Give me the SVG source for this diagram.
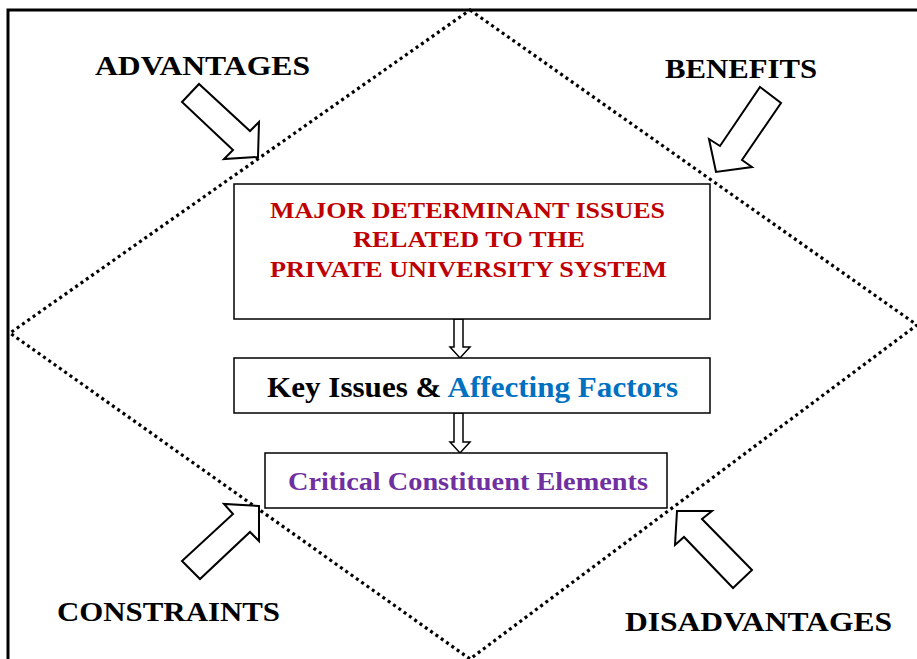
<svg xmlns="http://www.w3.org/2000/svg" width="917" height="659" viewBox="0 0 917 659">
<style>
.frame{stroke:#000;stroke-width:3;fill:none}
.dots{stroke:#000;stroke-width:3.2;fill:none;stroke-dasharray:3 3.5}
.box{fill:#fff;stroke:#000;stroke-width:1.5}
.blk{fill:#fff;stroke:#000;stroke-width:2;stroke-linejoin:miter}
.sm{fill:#fff;stroke:#000;stroke-width:1.5}
.lbl{font-family:"Liberation Serif","Times New Roman",serif;font-weight:bold;fill:#000}
</style>
<rect width="917" height="659" fill="#fff"/>
<g id="frame">
<path class="frame" d="M8,659 V10 H917"/>
</g>
<g id="diamond">
<path class="dots" d="M470,10 L917,325 L470,659 L10,333 Z"/>
</g>
<g id="connectors">
<polygon class="blk" points="182,102 199,84 250,131 259,122 258,157 224,159 233,150"/>
<polygon class="blk" points="760,87 781,103 742,160 752,167 716,172 709,139 720,146"/>
<polygon class="blk" points="259,506 224,504 233,514 182,561 200,579 250,532 259,541"/>
<polygon class="blk" points="677,511 712,511 702,519 752,570 733,588 684,537 675,545"/>
<polygon class="sm" points="454,319 463,319 463,347 470,347 460,358 450,347 454,347"/>
<polygon class="sm" points="454,413 463,413 463,442 470,442 460,453 450,442 454,442"/>
</g>
<g id="advantages"><text class="lbl" x="95" y="75" font-size="28" textLength="215" lengthAdjust="spacingAndGlyphs">ADVANTAGES</text></g>
<g id="benefits"><text class="lbl" x="665" y="78" font-size="28" textLength="152" lengthAdjust="spacingAndGlyphs">BENEFITS</text></g>
<g id="constraints"><text class="lbl" x="57" y="621" font-size="28" textLength="223" lengthAdjust="spacingAndGlyphs">CONSTRAINTS</text></g>
<g id="disadvantages"><text class="lbl" x="625" y="631" font-size="28" textLength="267" lengthAdjust="spacingAndGlyphs">DISADVANTAGES</text></g>
<g id="major">
<rect class="box" x="234" y="184" width="476" height="135"/>
<text class="lbl" font-size="24" style="fill:#C00000">
<tspan x="270" y="218" textLength="395" lengthAdjust="spacingAndGlyphs">MAJOR DETERMINANT ISSUES</tspan>
<tspan x="353" y="247" textLength="232" lengthAdjust="spacingAndGlyphs">RELATED TO THE</tspan>
<tspan x="270" y="277" textLength="397" lengthAdjust="spacingAndGlyphs">PRIVATE UNIVERSITY SYSTEM</tspan>
</text>
</g>
<g id="key">
<rect class="box" x="234" y="358" width="476" height="55"/>
<text class="lbl" x="267" y="397" font-size="29" textLength="411" lengthAdjust="spacingAndGlyphs">Key Issues &amp; <tspan style="fill:#0070C0">Affecting Factors</tspan></text>
</g>
<g id="critical">
<rect class="box" x="265" y="453" width="402" height="55"/>
<text class="lbl" x="288" y="490" font-size="26" style="fill:#7030A0" textLength="360" lengthAdjust="spacingAndGlyphs">Critical Constituent Elements</text>
</g>
</svg>
